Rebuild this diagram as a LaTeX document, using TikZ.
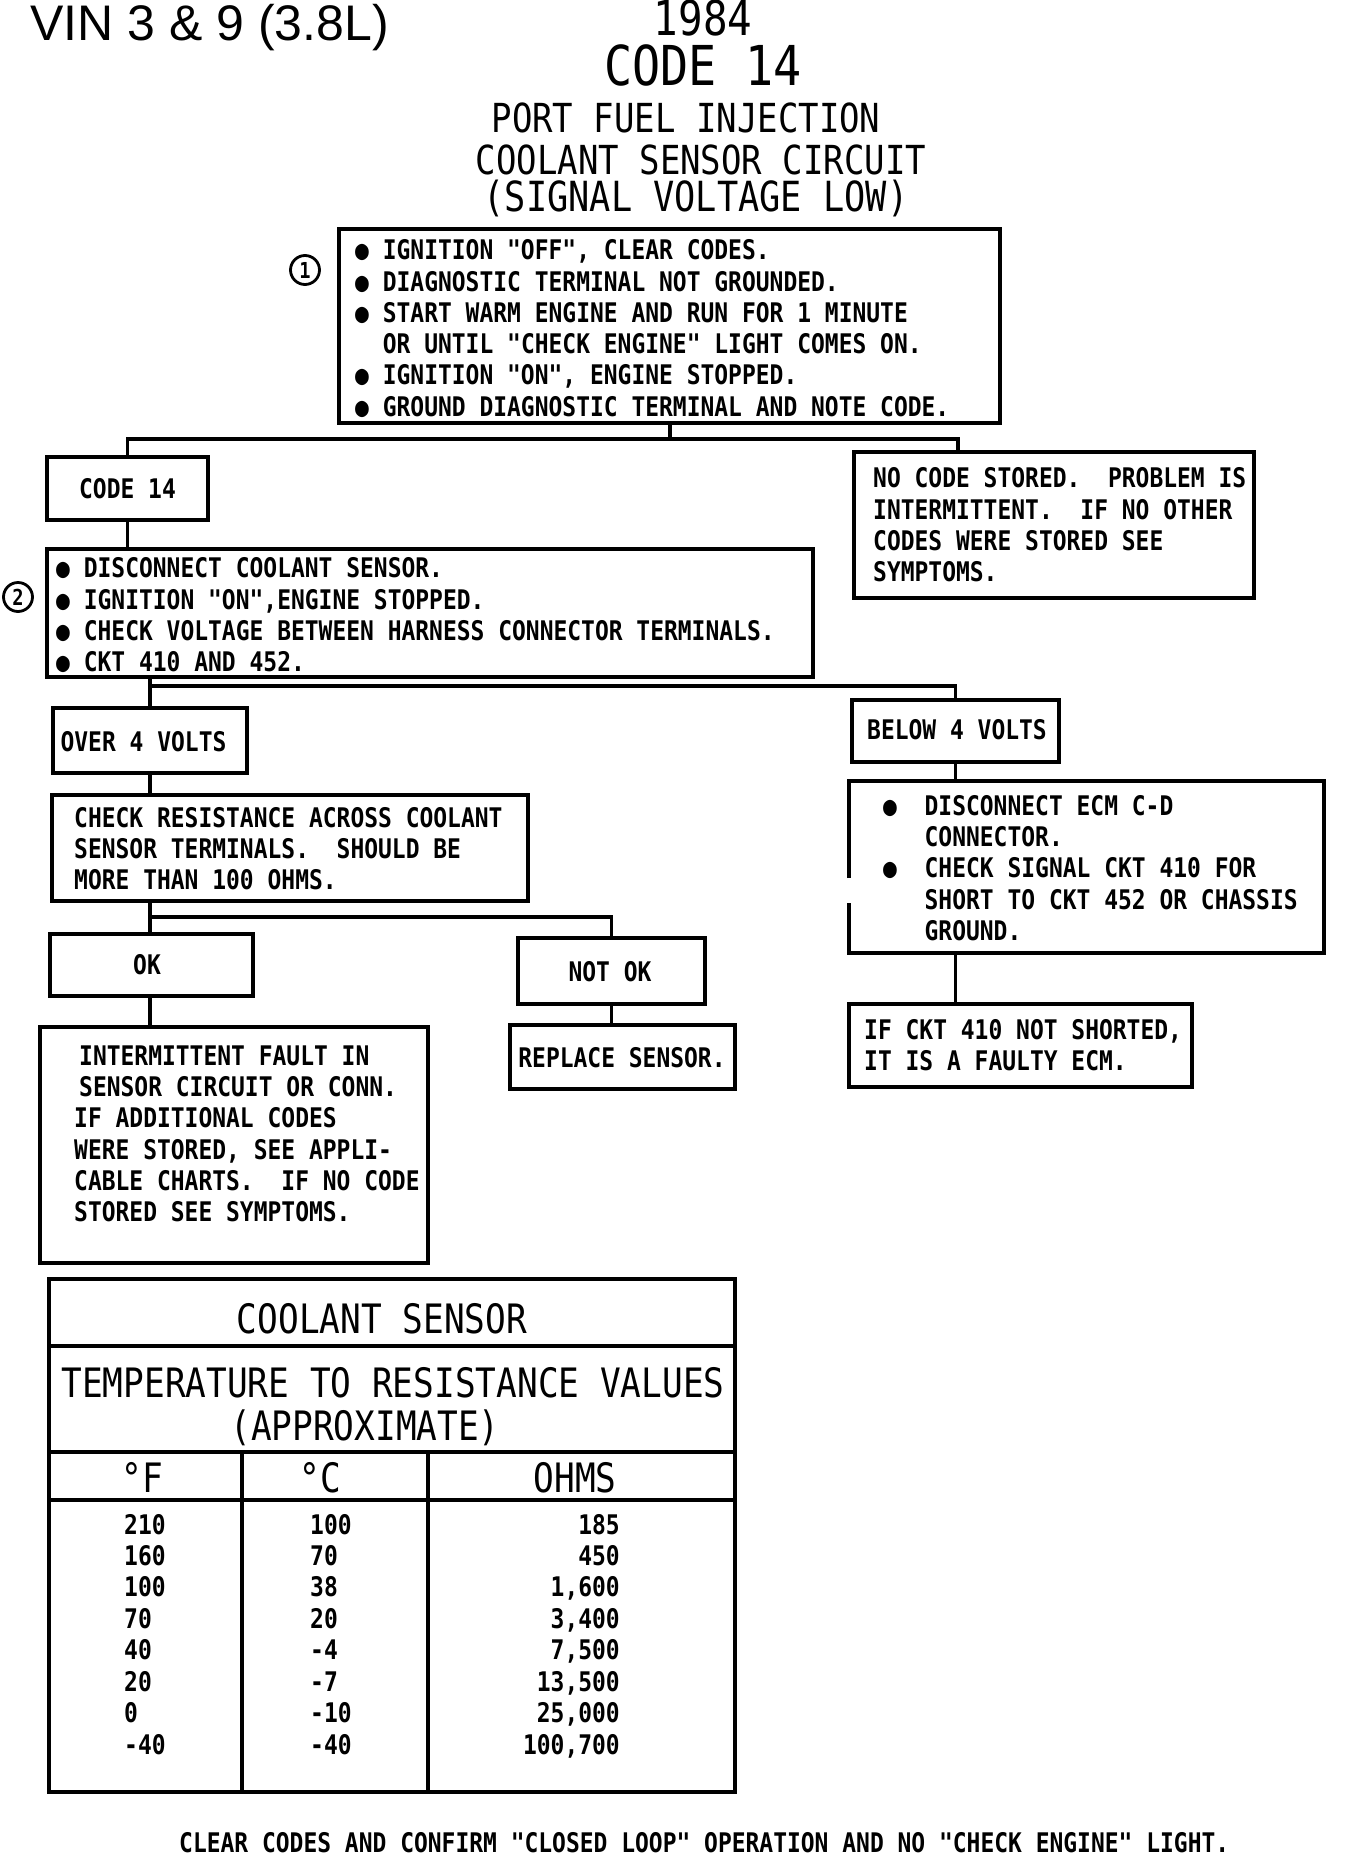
\documentclass[tikz,border=0pt]{standalone}
\usepackage{fontspec}
\usetikzlibrary{fit}
\newfontfamily\plot[FakeStretch=0.85]{DejaVu Sans Mono}
\newfontfamily\vinfont{Liberation Sans}
\newcommand\bulind{\phantom{●}\ }
\begin{document}
\begin{tikzpicture}[x=1pt,y=-1pt,
 boxs/.style={draw, line width=3.5pt, inner sep=0pt},
 conn/.style={line width=3.5pt},
 txt/.style={anchor=north west, inner sep=0pt, align=left, font=\plot\bfseries\fontsize{27}{31.3}\selectfont},
 lbl/.style={anchor=base, inner sep=0pt, font=\plot\bfseries\fontsize{27}{31.3}\selectfont},
 ttl/.style={anchor=base, inner sep=0pt},
 num/.style={circle, draw, line width=2.8pt, minimum size=29pt, inner sep=0pt, font=\plot\bfseries\fontsize{22}{22}\selectfont},
 head/.style={anchor=base, inner sep=0pt, font=\plot\fontsize{40.5}{40.5}\selectfont},
 dat/.style={inner sep=0pt, font=\plot\bfseries\fontsize{27}{27}\selectfont},
]
\fill[white] (0,0) rectangle (1344,1860);
\useasboundingbox (0,0) rectangle (1344,1860);

% titles
\node[ttl, anchor=base west, font=\vinfont\fontsize{50}{50}\selectfont] (vin) at (30,41) {VIN 3 \& 9 (3.8L)};
\node[ttl, font=\plot\fontsize{48}{48}\selectfont] (yr) at (703,36) {1984};
\node[ttl, font=\plot\fontsize{55}{55}\selectfont] (code) at (703,85) {CODE 14};
\node[ttl, font=\plot\fontsize{40}{40}\selectfont] (t1) at (686,132) {PORT FUEL INJECTION};
\node[ttl, font=\plot\fontsize{40}{40}\selectfont] (t2) at (701,174) {COOLANT SENSOR CIRCUIT};
\node[ttl, font=\plot\fontsize{41.5}{41.5}\selectfont] (t3) at (696,211) {(SIGNAL VOLTAGE LOW)};

% box 1
\node[boxs, fit={(339,229) (1000,423)}] (b1) {};
\node[txt] (b1t) at (355,237.5) {\rule{0pt}{22pt}● IGNITION "OFF", CLEAR CODES.\\
● DIAGNOSTIC TERMINAL NOT GROUNDED.\\
● START WARM ENGINE AND RUN FOR 1 MINUTE\\
\bulind OR UNTIL "CHECK ENGINE" LIGHT COMES ON.\\
● IGNITION "ON", ENGINE STOPPED.\\
● GROUND DIAGNOSTIC TERMINAL AND NOTE CODE.};
\node[num] (n1) at (305,270) {1};

% code 14 / no code
\node[boxs, fit={(47,457) (208,520)}] (c14) {};
\node[lbl] (c14t) at (127.5,498.5) {CODE 14};
\node[boxs, fit={(854,452) (1254,598)}] (nc) {};
\node[txt] (nct) at (873,465.5) {\rule{0pt}{22pt}NO CODE STORED.\ \ PROBLEM IS\\
INTERMITTENT.\ \ IF NO OTHER\\
CODES WERE STORED SEE\\
SYMPTOMS.};

% box 2
\node[boxs, fit={(47,549) (813,677)}] (b2) {};
\node[txt] (b2t) at (56,555.7) {\rule{0pt}{22pt}● DISCONNECT COOLANT SENSOR.\\
● IGNITION "ON",ENGINE STOPPED.\\
● CHECK VOLTAGE BETWEEN HARNESS CONNECTOR TERMINALS.\\
● CKT 410 AND 452.};
\node[num] (n2) at (18,597) {2};

% over / below
\node[boxs, fit={(53,708) (247,773)}] (ov) {};
\node[lbl] (ovt) at (143.5,751) {OVER 4 VOLTS};
\node[boxs, fit={(852,700) (1059,762)}] (bl) {};
\node[lbl] (blt) at (957,739) {BELOW 4 VOLTS};

% check resistance
\node[boxs, fit={(52,795) (528,901)}] (cr) {};
\node[txt] (crt) at (74,805) {\rule{0pt}{22pt}CHECK RESISTANCE ACROSS COOLANT\\
SENSOR TERMINALS.\ \ SHOULD BE\\
MORE THAN 100 OHMS.};

% ok / not ok
\node[boxs, fit={(50,934) (253,996)}] (ok) {};
\node[lbl] (okt) at (147,974) {OK};
\node[boxs, fit={(518,938) (705,1004)}] (nok) {};
\node[lbl] (nokt) at (610,981) {NOT OK};

% intermittent
\node[boxs, fit={(40,1027) (428,1263)}] (im) {};
\node[txt] (imt) at (74,1043) {\rule{0pt}{22pt}\hspace*{5pt}INTERMITTENT FAULT IN\\
\hspace*{5pt}SENSOR CIRCUIT OR CONN.\\
IF ADDITIONAL CODES\\
WERE STORED, SEE APPLI-\\
CABLE CHARTS.\ \ IF NO CODE\\
STORED SEE SYMPTOMS.};

% replace
\node[boxs, fit={(510,1025) (735,1089)}] (rs) {};
\node[lbl] (rst) at (622,1067.5) {REPLACE SENSOR.};

% ECM (left border has a short gap, as in the reference)
\node[inner sep=0pt, fit={(849,781) (1324,953)}] (de) {};
\draw[conn] (de.west |- 0,878) -- (de.north west) -- (de.north east) -- (de.south east) -- (de.south west) -- (de.west |- 0,903);
\node[txt] (det) at (883,793) {\rule{0pt}{22pt}●\ \ DISCONNECT ECM C-D\\
\bulind\ CONNECTOR.\\
●\ \ CHECK SIGNAL CKT 410 FOR\\
\bulind\ SHORT TO CKT 452 OR CHASSIS\\
\bulind\ GROUND.};

% if ckt
\node[boxs, fit={(849,1004) (1192,1087)}] (ic) {};
\node[txt] (ict) at (864,1017) {\rule{0pt}{22pt}IF CKT 410 NOT SHORTED,\\
IT IS A FAULTY ECM.};

% connectors
\coordinate (j1) at (670,439);
\coordinate (j1r) at (958,439);
\draw[conn] (b1.south -| j1) -- (j1);
\draw[conn] (c14.north) |- (j1r) -- (j1r |- nc.north);
\draw[conn] (c14.south) -- (c14.south |- b2.north);
\coordinate (j2) at (150,686);
\draw[conn] (j2 |- b2.south) -- (j2 |- ov.north);
\draw[conn] (j2) -| (bl.north);
\draw[conn] (ov.south -| j2) -- (j2 |- cr.north);
\coordinate (j3) at (150,917);
\draw[conn] (j3 |- cr.south) -- (j3 |- ok.north);
\draw[conn] (j3) -| (nok.north);
\draw[conn] (ok.south -| j3) -- (j3 |- im.north);
\draw[conn] (nok.south) -- (nok.south |- rs.north);
\draw[conn] (bl.south) -- (bl.south |- de.north);
\draw[conn] (bl.south |- de.south) -- (bl.south |- ic.north);

% table
\node[boxs, fit={(49,1279) (735,1792)}] (tb) {};
\coordinate (ca) at (242,1452);
\coordinate (cb) at (428,1452);
\draw[conn] (tb.west |- 0,1346) -- (tb.east |- 0,1346);
\draw[conn] (tb.west |- ca) -- (tb.east |- ca);
\draw[conn] (tb.west |- 0,1500) -- (tb.east |- 0,1500);
\draw[conn] (ca) -- (ca |- tb.south);
\draw[conn] (cb) -- (cb |- tb.south);
\node[head] (h1) at (382,1333) {COOLANT SENSOR};
\node[head] (h2) at (393,1397) {TEMPERATURE TO RESISTANCE VALUES};
\node[head] (h3) at (365,1440) {(APPROXIMATE)};
\node[head] (hf) at (142,1492) {°F};
\node[head] (hc) at (320,1492) {°C};
\node[head] (ho) at (575,1492) {OHMS};
\foreach \f/\c/\o [count=\i] in {210/100/185,160/70/450,100/38/{1,600},70/20/{3,400},40/-4/{7,500},20/-7/{13,500},0/-10/{25,000},-40/-40/{100,700}}{
  \node[dat, anchor=base west] (df\i) at (124,{1534+31.43*(\i-1)}) {\f};
  \node[dat, anchor=base west] (dc\i) at (310,{1534+31.43*(\i-1)}) {\c};
  \node[dat, anchor=base east] (do\i) at (620,{1534+31.43*(\i-1)}) {\o};
}

% footer
\node[dat, anchor=base west] (ft) at (179,1852) {CLEAR CODES AND CONFIRM "CLOSED LOOP" OPERATION AND NO "CHECK ENGINE" LIGHT.};
\end{tikzpicture}
\end{document}
